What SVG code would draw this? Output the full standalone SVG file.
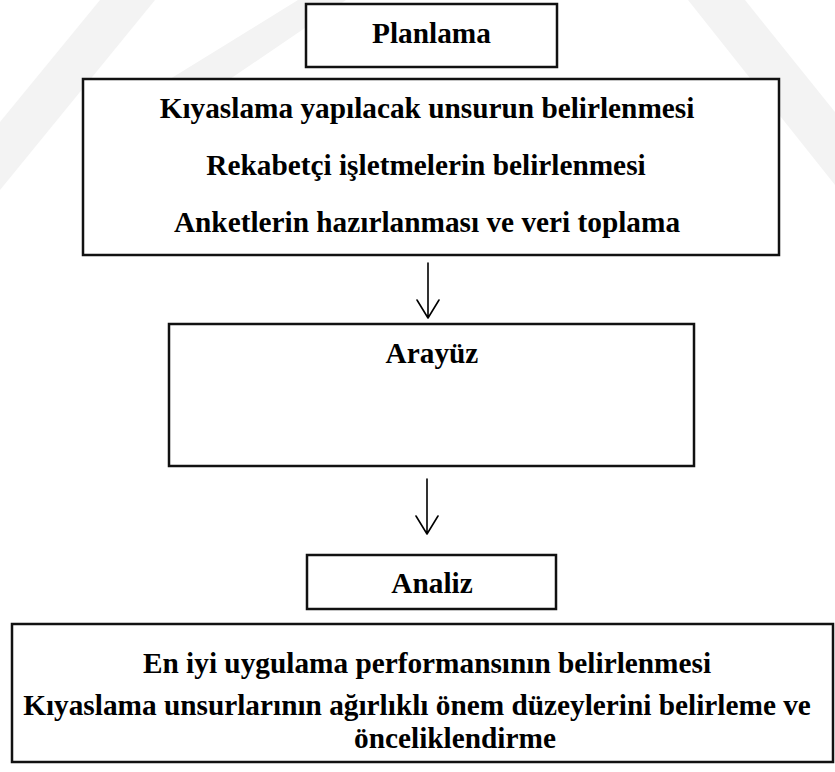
<svg xmlns="http://www.w3.org/2000/svg" width="835" height="772" viewBox="0 0 835 772">
  <style>
    .box { fill: #ffffff; stroke: #111111; stroke-width: 2.5; }
    .lbl { font-family: "Liberation Serif", "Times New Roman", serif; font-weight: bold; font-size: 29.3px; fill: #000000; text-anchor: middle; }
    .conn { fill: none; stroke: #000000; stroke-width: 1.6; stroke-linecap: round; stroke-linejoin: round; }
    .mark { fill: #f3f3f3; }
  </style>

  <!-- faint background watermark bands -->
  <g id="watermark">
    <polygon class="mark" points="100,0 155,0 0,190 0,122"/>
    <polygon class="mark" points="298,0 346,0 230,79 170,79"/>
    <polygon class="mark" points="688,0 745,0 835,112 835,185"/>
  </g>

  <g id="planlama">
    <rect class="box" x="306" y="4" width="251" height="63"/>
    <text class="lbl" x="431.5" y="43">Planlama</text>
  </g>

  <g id="planlama-steps">
    <rect class="box" x="83" y="79" width="696" height="176"/>
    <text class="lbl" x="427" y="118">Kıyaslama yapılacak unsurun belirlenmesi</text>
    <text class="lbl" x="426" y="175">Rekabetçi işletmelerin belirlenmesi</text>
    <text class="lbl" x="427" y="232">Anketlerin hazırlanması ve veri toplama</text>
  </g>

  <g id="arayuz">
    <rect class="box" x="169" y="324" width="525" height="142"/>
    <text class="lbl" x="432" y="363">Arayüz</text>
  </g>

  <g id="analiz">
    <rect class="box" x="307" y="555" width="249" height="54"/>
    <text class="lbl" x="432" y="593">Analiz</text>
  </g>

  <g id="analiz-steps">
    <rect class="box" x="12" y="624" width="821" height="138"/>
    <text class="lbl" x="427" y="673">En iyi uygulama performansının belirlenmesi</text>
    <text class="lbl" x="417" y="715">Kıyaslama unsurlarının ağırlıklı önem düzeylerini belirleme ve</text>
    <text class="lbl" x="455" y="748">önceliklendirme</text>
  </g>

  <g id="connectors">
    <path class="conn" d="M428,263 V318 M417,300 L428,318 L439,300"/>
    <path class="conn" d="M427,479 V534 M416,516 L427,534 L438,516"/>
  </g>
</svg>
